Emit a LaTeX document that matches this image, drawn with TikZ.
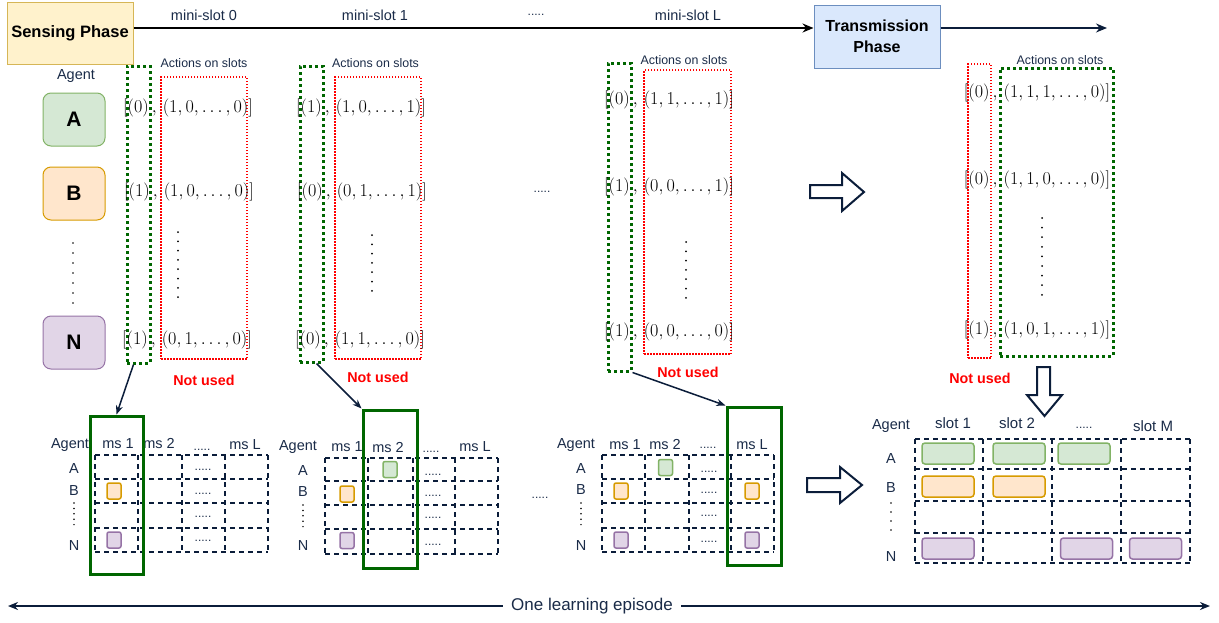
\documentclass[tikz,border=0pt]{standalone}
\usepackage{graphicx}
\usepackage{fontspec}
\setmainfont{Liberation Sans}
\usetikzlibrary{arrows.meta}
\definecolor{navy}{HTML}{0B1D3A}
\definecolor{navytext}{HTML}{1A2B48}
\definecolor{dgreen}{HTML}{006600}
\definecolor{fillA}{HTML}{D5E8D4}\definecolor{strokeA}{HTML}{82B366}
\definecolor{fillB}{HTML}{FFE6CC}\definecolor{strokeB}{HTML}{D79B00}
\definecolor{fillN}{HTML}{E1D5E7}\definecolor{strokeN}{HTML}{9673A6}
\definecolor{fillS}{HTML}{FFF2CC}\definecolor{strokeS}{HTML}{D6B656}
\definecolor{fillT}{HTML}{DAE8FC}\definecolor{strokeT}{HTML}{6C8EBF}
\newcommand\fsz[1]{\fontsize{#1}{#1}\selectfont}
\newcommand\mt[1]{\scalebox{1.05}{$#1$}}
\newcommand\mkgrid[6]{%
  \foreach \xx in {#1} \draw[cell] (\xx,#5) -- (\xx,#6);
  \foreach \yy in {#2} \draw[cell] (#3,\yy) -- (#4,\yy);}
\begin{document}
\begin{tikzpicture}[x=1pt,y=-1pt,
  lbl/.style={inner sep=0pt, text=navytext, font=\fsz{14.5}},
  small/.style={inner sep=0pt, text=navytext, font=\fsz{12.4}},
  dts/.style={inner sep=0pt, text=navytext, font=\fsz{12}},
  nu/.style={inner sep=0pt, text=red, font=\fsz{14.3}\bfseries},
  mth/.style={inner sep=0pt, text=black, font=\fsz{17.28}},
  agent/.style={draw, rounded corners=8pt, line width=1pt, minimum width=62pt, minimum height=53pt, inner sep=0pt, font=\fsz{21}\bfseries},
  gdot/.style={draw=dgreen, line width=3pt, dash pattern=on 3pt off 3pt, inner sep=0pt},
  rdot/.style={draw=red, line width=1.5pt, dash pattern=on 1.5pt off 1.5pt, inner sep=0pt},
  gsolid/.style={draw=dgreen, line width=3pt, inner sep=0pt, minimum width=54pt, minimum height=158pt},
  cell/.style={draw=navy, line width=1.4pt, dash pattern=on 5pt off 4pt},
  sq/.style={rounded corners=2pt, line width=1.5pt, minimum width=14pt, minimum height=16pt, inner sep=0pt},
  bar/.style={rounded corners=3pt, line width=1.5pt, minimum width=52pt, minimum height=21pt, inner sep=0pt},
  ga/.style={fill=fillA, draw=strokeA},
  gb/.style={fill=fillB, draw=strokeB},
  gn/.style={fill=fillN, draw=strokeN},
  vdot/.style={draw=black, line width=2pt, line cap=round, dash pattern=on 0pt off #1},
  hollow/.style={draw=navy, line width=2pt, fill=white, line join=miter},
  conn/.style={draw=navy, line width=1.5pt, -{Stealth[length=9pt,width=7pt]}},
]
\useasboundingbox (0,0) rectangle (1219,622);

% ---------- top timeline ----------
\node[draw=strokeS, fill=fillS, line width=1pt, minimum width=126pt, minimum height=62pt, inner sep=0pt, font=\fsz{16.5}\bfseries] (sense) at (70,33) {Sensing Phase};
\node[draw=strokeT, fill=fillT, line width=1pt, minimum width=126pt, minimum height=63pt, inner sep=0pt, align=center, font=\fontsize{16}{21}\selectfont\bfseries] (trans) at (877,36.5) {Transmission\\Phase};
\coordinate (tend) at (1107,28);
\draw[black, line width=1.6pt, -{Stealth[length=11pt,width=9pt]}] ([yshift=5pt]sense.east) -- ([yshift=5pt]sense.east -| trans.west);
\draw[navy, line width=1.6pt, -{Stealth[length=11pt,width=9pt]}] ([yshift=8.5pt]trans.east) -- (tend);
\node[lbl] (ms0) at (204,15) {mini-slot 0};
\node[lbl] (ms1) at (375,15) {mini-slot 1};
\node[dts] (msd) at (536,15) {.....};
\node[lbl] (msL) at (688,15) {mini-slot L};

% ---------- agents ----------
\node[lbl] (agent) at (76,76) {Agent};
\node[agent, ga] (A) at (74,119.5) {A};
\node[agent, gb] (B) at (74,193.5) {B};
\node[agent, gn] (N) at (74,342.5) {N};
\draw[vdot=10pt, line width=1.8pt] (73,243) -- (73,304);

% ---------- column 1 ----------
\node[small] (act1) at (204,63) {Actions on slots};
\node[gdot, minimum width=23pt, minimum height=297pt] (g1) at (138.5,214.5) {};
\node[rdot, minimum width=86pt, minimum height=282pt] (r1) at (204,218) {};
\node[mth] (c1a) at (188,108) {\mt{[(0)\,,\,(1,0,\ldots,0)]}};
\node[mth] (c1b) at (189,192) {\mt{[(1)\,,\,(1,0,\ldots,0)]}};
\node[mth] (c1n) at (187,340) {\mt{[(1)\,,\,(0,1,\ldots,0)]}};
\draw[vdot=9.3pt] (178,232) -- (178,306);
\node[nu] (nu1) at (204,380) {Not used};

% ---------- column 2 ----------
\node[small] (act2) at (375.5,63) {Actions on slots};
\node[gdot, minimum width=23pt, minimum height=296pt] (g2) at (311.5,214) {};
\node[rdot, minimum width=86pt, minimum height=282pt] (r2) at (378,218) {};
\node[mth] (c2a) at (361,108) {\mt{[(1)\,,\,(1,0,\ldots,1)]}};
\node[mth] (c2b) at (362,192) {\mt{[(0)\,,\,(0,1,\ldots,1)]}};
\node[mth] (c2n) at (360,340) {\mt{[(0)\,,\,(1,1,\ldots,0)]}};
\draw[vdot=9.3pt] (372,235) -- (372,296);
\node[nu] (nu2) at (378,377) {Not used};

\node[dts] (midd) at (542,192) {.....};

% ---------- column 3 ----------
\node[small] (act3) at (684,60) {Actions on slots};
\node[gdot, minimum width=23pt, minimum height=308pt] (g3) at (619.5,217) {};
\node[rdot, minimum width=87pt, minimum height=284pt] (r3) at (687.5,212) {};
\node[mth] (c3a) at (669,100) {\mt{[(0)\,,\,(1,1,\ldots,1)]}};
\node[mth] (c3b) at (669,187) {\mt{[(1)\,,\,(0,0,\ldots,1)]}};
\node[mth] (c3n) at (669,332) {\mt{[(1)\,,\,(0,0,\ldots,0)]}};
\draw[vdot=9.3pt] (686,242) -- (686,303);
\node[nu] (nu3) at (688,372) {Not used};

% ---------- column 4 (transmission) ----------
\node[small] (act4) at (1060,60) {Actions on slots};
\node[rdot, minimum width=23pt, minimum height=294pt] (r4) at (979.5,211) {};
\node[gdot, minimum width=113pt, minimum height=288pt] (g4) at (1056.5,212) {};
\node[mth] (c4a) at (1037,93) {\mt{[(0)\,,\,(1,1,1,\ldots,0)]}};
\node[mth] (c4b) at (1037,180) {\mt{[(0)\,,\,(1,1,0,\ldots,0)]}};
\node[mth] (c4n) at (1037,330) {\mt{[(1)\,,\,(1,0,1,\ldots,1)]}};
\draw[vdot=9.6pt] (1042,218) -- (1042,295);
\node[nu] (nu4) at (980,378) {Not used};

% ---------- hollow arrows ----------
\draw[hollow] (810,185) -- (842,185) -- (842,173) -- (864,192) -- (842,211) -- (842,198) -- (810,198) -- cycle;
\draw[hollow] (1037,367) -- (1050,367) -- (1050,395) -- (1062,395) -- (1044.5,416) -- (1027,395) -- (1037,395) -- cycle;
\draw[hollow] (807,478) -- (840,478) -- (840,467) -- (862,485) -- (840,503) -- (840,492) -- (807,492) -- cycle;

% ---------- grid 1 ----------
\mkgrid{95,138,182,225,268}{455,479,503,528,552}{95}{268}{455}{552}
\node[lbl] (ag1) at (70,445) {Agent};
\node[lbl] (h11) at (118,444) {ms 1};
\node[lbl] (h12) at (159,444) {ms 2};
\node[dts] (h13) at (202,450) {.....};
\node[lbl] (h14) at (245,445) {ms L};
\node[lbl] (ra1) at (74,469) {A};
\node[lbl] (rb1) at (74,491) {B};
\node[lbl] (rn1) at (74,546) {N};
\draw[vdot=5.4pt, line width=1.7pt] (74,503) -- (74,525);
\foreach \yy [count=\i] in {470,494,517,541} \node[dts] (d1\i) at (203,\yy) {.....};
\node[sq, gb] (q1b) at (114,491) {};
\node[sq, gn] (q1n) at (114,540) {};
\node[gsolid, minimum width=53pt] (s1) at (116.5,495) {};

% ---------- grid 2 ----------
\mkgrid{325,368,413,455,498}{458,481,505,529,554}{325}{498}{458}{554}
\node[lbl] (ag2) at (298,447) {Agent};
\node[lbl] (h21) at (347,447) {ms 1};
\node[lbl] (h22) at (388,447) {ms 2};
\node[dts] (h23) at (431,452) {.....};
\node[lbl] (h24) at (475,447) {ms L};
\node[lbl] (ra2) at (303,471) {A};
\node[lbl] (rb2) at (303,492) {B};
\node[lbl] (rn2) at (303,546) {N};
\draw[vdot=5.4pt, line width=1.7pt] (303,505) -- (303,527);
\foreach \yy [count=\i] in {475,496,518,545} \node[dts] (d2\i) at (433,\yy) {.....};
\node[sq, ga] (q2a) at (390,469.5) {};
\node[sq, gb] (q2b) at (347,494) {};
\node[sq, gn] (q2n) at (347,540.5) {};
\node[gsolid] (s2) at (390,489) {};

\node[dts] (midg) at (540,498) {.....};

% ---------- grid 3 ----------
\mkgrid{602,645,689,731,774}{455,479,503,528,552}{602}{774}{455}{552}
\node[lbl] (ag3) at (576,445) {Agent};
\node[lbl] (h31) at (625,445) {ms 1};
\node[lbl] (h32) at (665,445) {ms 2};
\node[dts] (h33) at (708,448) {.....};
\node[lbl] (h34) at (752,445) {ms L};
\node[lbl] (ra3) at (581,469) {A};
\node[lbl] (rb3) at (581,490) {B};
\node[lbl] (rn3) at (581,546) {N};
\draw[vdot=5.4pt, line width=1.7pt] (581,503) -- (581,525);
\foreach \yy [count=\i] in {472,493,516,542} \node[dts] (d3\i) at (709,\yy) {.....};
\node[sq, ga] (q3a) at (665.5,467.5) {};
\node[sq, gb] (q3b) at (621,491) {};
\node[sq, gb] (q3bl) at (752,491) {};
\node[sq, gn] (q3n) at (621,540) {};
\node[sq, gn] (q3nl) at (752,540) {};
\node[gsolid] (s3) at (754,486) {};

% ---------- grid 4 ----------
\mkgrid{915,983,1052,1121,1190}{439,469,501,533,563}{915}{1190}{439}{563}
\node[lbl] (ag4) at (891,426) {Agent};
\node[lbl, font=\fsz{15}] (h41) at (953,423) {slot 1};
\node[lbl, font=\fsz{15}] (h42) at (1017,423) {slot 2};
\node[dts] (h43) at (1084,428) {.....};
\node[lbl, font=\fsz{15}] (h44) at (1153,426) {slot M};
\node[lbl] (ra4) at (891,459) {A};
\node[lbl] (rb4) at (891,488) {B};
\node[lbl] (rn4) at (891,557) {N};
\draw[vdot=9pt, line width=1.8pt] (891,503) -- (891,530);
\node[bar, ga] (b4a1) at (948,453.5) {};
\node[bar, ga] (b4a2) at (1019,453.5) {};
\node[bar, ga] (b4a3) at (1084,453.5) {};
\node[bar, gb] (b4b1) at (948,486.5) {};
\node[bar, gb] (b4b2) at (1019,486.5) {};
\node[bar, gn] (b4n1) at (948,548.5) {};
\node[bar, gn] (b4n3) at (1086.5,548.5) {};
\node[bar, gn] (b4n4) at (1155.5,548.5) {};

% ---------- connectors ----------
\draw[conn] ([xshift=-5pt]g1.south) -- (s1.north);
\draw[conn] ([xshift=5pt]g2.south) -- (s2.north west);
\draw[conn] (g3.south east) -- (s3.north west);

% ---------- episode ----------
\node[lbl, font=\fsz{17}, inner xsep=8pt, inner ysep=2pt, fill=white] (ep) at (592,606) {One learning episode};
\coordinate (epL) at (8,606);
\coordinate (epR) at (1210,606);
\draw[navy, line width=2pt, {Stealth[length=10pt,width=8pt]}-] (epL) -- (ep.west);
\draw[navy, line width=2pt, -{Stealth[length=10pt,width=8pt]}] (ep.east) -- (epR);
\end{tikzpicture}
\end{document}
